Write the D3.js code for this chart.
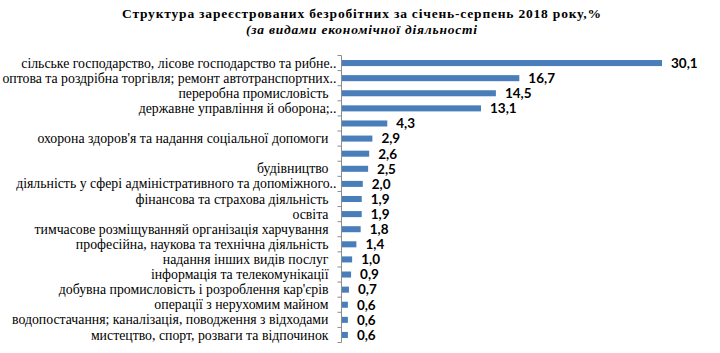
<!DOCTYPE html>
<html>
<head>
<meta charset="utf-8">
<script src="https://cdn.jsdelivr.net/npm/d3@7"></script>
<style>
  body { margin: 0; background: #fff; }
</style>
</head>
<body>
<div id="chart"></div>
<script>
const categories = [
  "сільське господарство, лісове господарство та рибне..",
  "оптова та роздрібна торгівля; ремонт автотранспортних..",
  "переробна промисловість",
  "державне управління й оборона;..",
  "",
  "охорона здоров'я та надання соціальної допомоги",
  "",
  "будівництво",
  "діяльність у сфері адміністративного та допоміжного..",
  "фінансова та страхова діяльність",
  "освіта",
  "тимчасове розміщуванняй організація харчування",
  "професійна, наукова та технічна діяльність",
  "надання інших видів послуг",
  "інформація та телекомунікації",
  "добувна промисловість і розроблення кар'єрів",
  "операції з нерухомим майном",
  "водопостачання; каналізація, поводження з відходами",
  "мистецтво, спорт, розваги та відпочинок"
];
const values = [30.1, 16.7, 14.5, 13.1, 4.3, 2.9, 2.6, 2.5, 2.0, 1.9, 1.9, 1.8, 1.4, 1.0, 0.9, 0.7, 0.6, 0.6, 0.6];
const titleLine1 = "Структура зареєстрованих безробітних за січень-серпень 2018 року,%";
const titleLine2 = "(за видами економічної діяльності";

const W = 720, H = 353;
const margin = { top: 55.5, right: 58, bottom: 10.5, left: 341.5 };
const width = W - margin.left - margin.right,
      height = H - margin.top - margin.bottom;

const svg = d3.select("#chart").append("svg")
    .attr("width", W)
    .attr("height", H);

const serif = "'Liberation Serif', 'Times New Roman', serif";

// Title, two lines
svg.append("text")
    .attr("x", 122)
    .attr("y", 18)
    .attr("font-family", serif)
    .attr("font-size", 13.5)
    .attr("font-weight", "bold")
    .attr("textLength", 479)
    .attr("lengthAdjust", "spacing")
    .text(titleLine1);

svg.append("text")
    .attr("x", 246)
    .attr("y", 34)
    .attr("font-family", serif)
    .attr("font-size", 13.5)
    .attr("font-weight", "bold")
    .attr("font-style", "italic")
    .attr("textLength", 231)
    .attr("lengthAdjust", "spacing")
    .text(titleLine2);

const g = svg.append("g")
    .attr("transform", "translate(" + margin.left + "," + margin.top + ")");

const idx = categories.map((c, i) => i);

const y = d3.scaleBand()
    .domain(idx)
    .range([0, height])
    .paddingInner(0.6)
    .paddingOuter(0.3);

const x = d3.scaleLinear()
    .domain([0, 30.1])
    .range([0, 320.5]);

g.selectAll(".bar")
  .data(values)
  .enter().append("rect")
    .attr("class", "bar")
    .attr("x", 0)
    .attr("y", (d, i) => y(i))
    .attr("width", d => x(d))
    .attr("height", y.bandwidth())
    .attr("fill", "#4a7ebb");

// category axis: line plus tick marks on the band edges
const step = y.step();
g.append("line")
    .attr("x1", 0).attr("x2", 0)
    .attr("y1", 0).attr("y2", height)
    .attr("stroke", "#8c8c8c");
g.selectAll(".tick")
  .data(d3.range(categories.length + 1))
  .enter().append("line")
    .attr("x1", -4).attr("x2", 0)
    .attr("y1", i => i * step)
    .attr("y2", i => i * step)
    .attr("stroke", "#8c8c8c");

g.selectAll(".cat")
  .data(categories)
  .enter().append("text")
    .attr("x", d => d.endsWith("..") ? -5 : -13)
    .attr("y", (d, i) => y(i) + y.bandwidth() / 2)
    .attr("dy", "0.33em")
    .attr("text-anchor", "end")
    .attr("font-family", serif)
    .attr("font-size", 13.8)
    .attr("fill", "#000")
    .text(d => d);

g.selectAll(".val")
  .data(values)
  .enter().append("text")
    .attr("x", d => x(d) + 9)
    .attr("y", (d, i) => y(i) + y.bandwidth() / 2)
    .attr("dy", "0.36em")
    .attr("font-family", "Lato, 'Open Sans', sans-serif")
    .attr("font-size", 13.5)
    .attr("font-weight", "bold")
    .attr("fill", "#000")
    .text(d => d3.format(".1f")(d).replace(".", ","));
</script>
</body>
</html>
